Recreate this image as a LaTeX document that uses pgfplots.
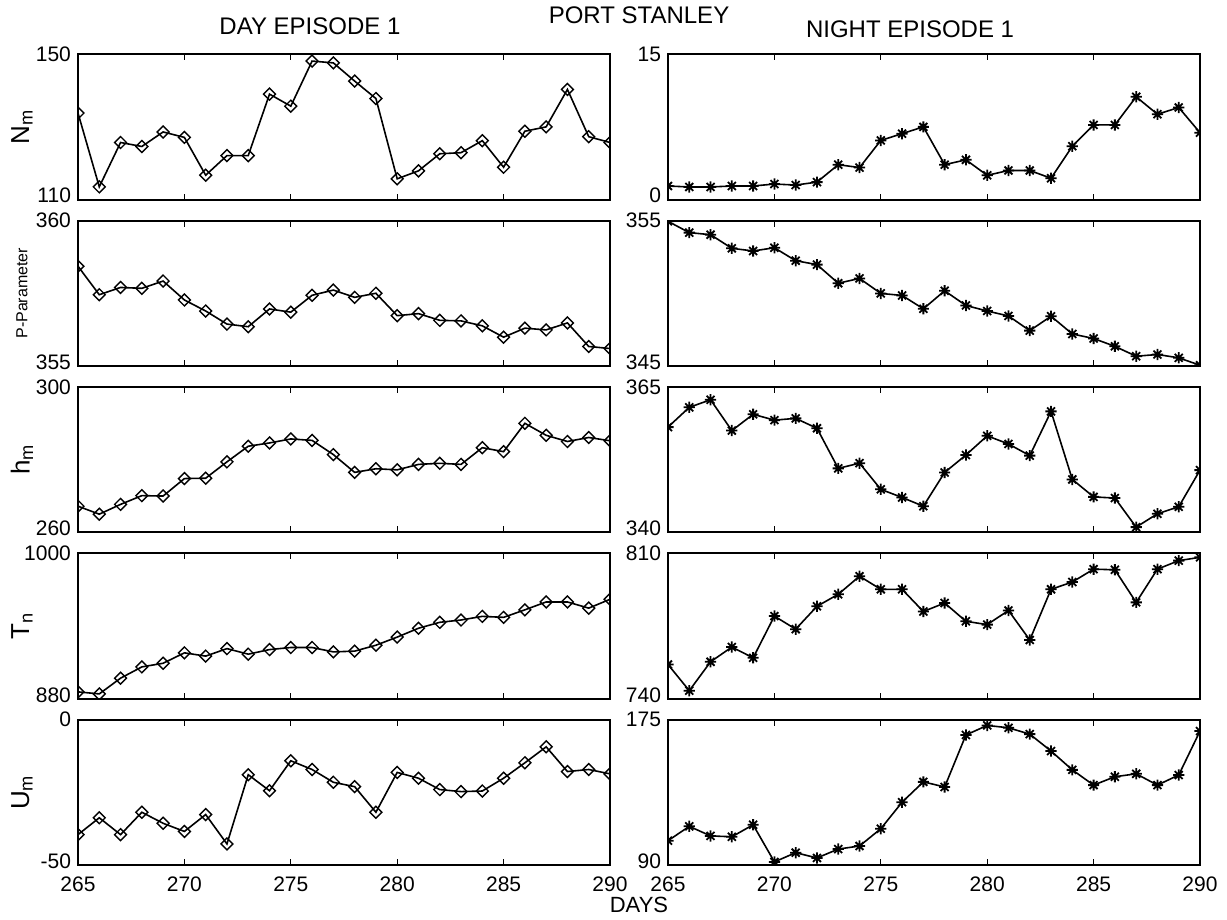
\documentclass[border=0pt]{standalone}
\usepackage{fontspec}
\setmainfont{Liberation Sans}
\usepackage{pgfplots}
\usepackage{pgfplotstable}
\pgfplotsset{compat=1.18}
\usepgfplotslibrary{groupplots}

% eight-armed asterisk like the original plotter symbol
\pgfdeclareplotmark{star8}{%
  \pgfpathmoveto{\pgfqpointpolar{0}{\pgfplotmarksize}}\pgfpathlineto{\pgfqpointpolar{180}{\pgfplotmarksize}}%
  \pgfpathmoveto{\pgfqpointpolar{90}{\pgfplotmarksize}}\pgfpathlineto{\pgfqpointpolar{270}{\pgfplotmarksize}}%
  \pgfpathmoveto{\pgfqpointpolar{45}{\pgfplotmarksize}}\pgfpathlineto{\pgfqpointpolar{225}{\pgfplotmarksize}}%
  \pgfpathmoveto{\pgfqpointpolar{135}{\pgfplotmarksize}}\pgfpathlineto{\pgfqpointpolar{315}{\pgfplotmarksize}}%
  \pgfusepathqstroke}

\pgfplotstableread{
day Nd    Nn   Pd     Pn     hd    hn    Td    Tnn   Ud    Un
265 133.8 1.4  358.43 354.95 267.2 358.1 885.7 756.5 -39.5 104.3
266 113.5 1.3  357.45 354.17 265.0 361.5 884.0 743.9 -33.7 112.7
267 125.7 1.3  357.70 354.03 267.7 362.8 897.0 757.8 -39.5 107.1
268 124.6 1.4  357.67 353.09 270.1 357.5 906.3 764.9 -31.8 106.6
269 128.6 1.4  357.92 352.91 270.0 360.3 909.3 759.7 -35.6 113.6
270 127.1 1.6  357.27 353.13 274.8 359.3 917.9 779.8 -38.4 91.9
271 116.7 1.5  356.89 352.24 274.9 359.6 915.2 773.5 -32.6 97.3
272 122.1 1.8  356.44 351.97 279.4 357.9 921.4 784.5 -42.7 94.2
273 122.1 3.6  356.35 350.69 283.7 351.0 916.8 790.3 -18.9 99.4
274 139.0 3.3  356.96 351.02 284.6 351.9 920.6 799.0 -24.4 101.2
275 135.7 6.1  356.85 349.99 285.7 347.4 922.3 792.7 -14.1 111.3
276 148.1 6.8  357.43 349.85 285.3 346.0 922.3 792.7 -17.1 126.8
277 147.6 7.5  357.61 348.93 281.4 344.5 918.7 782.0 -21.5 138.7
278 142.6 3.6  357.36 350.17 276.5 350.3 919.3 786.1 -23.0 135.7
279 137.8 4.1  357.50 349.16 277.5 353.3 924.2 777.3 -31.8 166.1
280 115.7 2.5  356.73 348.78 277.2 356.6 930.9 775.7 -18.1 171.7
281 117.9 3.0  356.80 348.44 278.7 355.2 938.2 782.5 -20.1 170.3
282 122.6 3.0  356.57 347.43 279.0 353.2 943.1 768.3 -24.0 166.6
283 122.9 2.2  356.55 348.42 278.7 360.8 945.0 792.7 -24.7 156.7
284 126.2 5.5  356.38 347.20 283.3 349.1 948.0 796.2 -24.5 145.7
285 118.9 7.7  355.99 346.89 282.2 346.1 947.2 802.4 -20.1 136.8
286 128.8 7.7  356.30 346.35 290.0 345.9 953.4 802.1 -14.8 141.7
287 130.0 10.6 356.24 345.67 286.7 340.9 959.9 786.4 -9.3  143.4
288 140.3 8.8  356.48 345.79 285.0 343.2 959.9 802.4 -17.8 136.8
289 127.3 9.5  355.67 345.56 286.1 344.4 954.8 806.5 -17.1 142.7
290 125.7 6.9  355.60 345.05 285.2 350.7 962.1 808.1 -18.6 168.4
}\data

\pgfplotsset{
  dayplot/.style={black, line width=0.8pt, mark=square, mark size=2.1pt,
    mark options={solid, rotate=45, fill=white, line width=0.7pt}},
  nightplot/.style={black, line width=0.8pt, mark=star8, mark size=2.8pt,
    mark options={solid, line width=0.9pt}},
}

\begin{document}
\begin{tikzpicture}
\begin{groupplot}[
  group style={group size=2 by 5, group name=G, horizontal sep=29pt,
    vertical sep=10.5pt, xticklabels at=edge bottom},
  scale only axis, width=266pt, height=72.7pt,
  xmin=265, xmax=290, xtick={265,270,...,290},
  axis line style={line width=1pt},
  tick style={black, line width=0.5pt}, major tick length=3pt, tick align=inside,
  ticklabel style={font=\fontsize{10.5}{12}\selectfont},
  xticklabel style={yshift=-2.5pt},
  /pgf/number format/assume math mode=true,
  /pgf/number format/1000 sep={},
  % end labels sit just inside the frame, as in the original
  yticklabel={\ifnum\ticknum=0\relax\raisebox{4pt}{\pgfmathprintnumber{\tick}}%
    \else\raisebox{-4pt}{\pgfmathprintnumber{\tick}}\fi},
  every axis y label/.style={at={([xshift=-28pt]rel axis cs:0,0.5)}, rotate=90,
    anchor=center, font=\fontsize{13}{15}\selectfont},
  clip marker paths=true,
]
\nextgroupplot[ymin=110, ymax=150, ytick={110,150}, ylabel={N\textsubscript{m}},
  title={DAY EPISODE 1}, title style={at={(0.436,1)}, anchor=south, yshift=0pt,
  font=\fontsize{12}{14}\selectfont}]
\addplot[dayplot] table[x=day, y=Nd] {\data};
\nextgroupplot[ymin=0, ymax=15, ytick={0,15},
  title={NIGHT EPISODE 1}, title style={at={(0.455,1)}, anchor=south, yshift=-1.5pt,
  font=\fontsize{12}{14}\selectfont}]
\addplot[nightplot] table[x=day, y=Nn] {\data};

\nextgroupplot[ymin=355, ymax=360, ytick={355,360}, ylabel={P-Parameter},
  ylabel style={font=\fontsize{8}{10}\selectfont}]
\addplot[dayplot] table[x=day, y=Pd] {\data};
\nextgroupplot[ymin=345, ymax=355, ytick={345,355}]
\addplot[nightplot] table[x=day, y=Pn] {\data};

\nextgroupplot[ymin=260, ymax=300, ytick={260,300}, ylabel={h\textsubscript{m}}]
\addplot[dayplot] table[x=day, y=hd] {\data};
\nextgroupplot[ymin=340, ymax=365, ytick={340,365}]
\addplot[nightplot] table[x=day, y=hn] {\data};

\nextgroupplot[ymin=880, ymax=1000, ytick={880,1000}, ylabel={T\textsubscript{n}}]
\addplot[dayplot] table[x=day, y=Td] {\data};
\nextgroupplot[ymin=740, ymax=810, ytick={740,810}]
\addplot[nightplot] table[x=day, y=Tnn] {\data};

\nextgroupplot[ymin=-50, ymax=0, ytick={-50,0}, ylabel={U\textsubscript{m}}]
\addplot[dayplot] table[x=day, y=Ud] {\data};
\nextgroupplot[ymin=90, ymax=175, ytick={90,175}]
\addplot[nightplot] table[x=day, y=Un] {\data};
\end{groupplot}

\path (G c1r1.north east) -- (G c2r1.north west)
  node[midway, yshift=19.5pt, font=\fontsize{12}{14}\selectfont] {PORT STANLEY};
\path (G c1r5.south east) -- (G c2r5.south west)
  node[midway, yshift=-20pt, font=\fontsize{11}{13}\selectfont] {DAYS};
\path ([shift={(-39pt,25.5pt)}]G c1r1.north west) rectangle
  ([shift={(13.5pt,-26pt)}]G c2r5.south east);
\end{tikzpicture}
\end{document}
